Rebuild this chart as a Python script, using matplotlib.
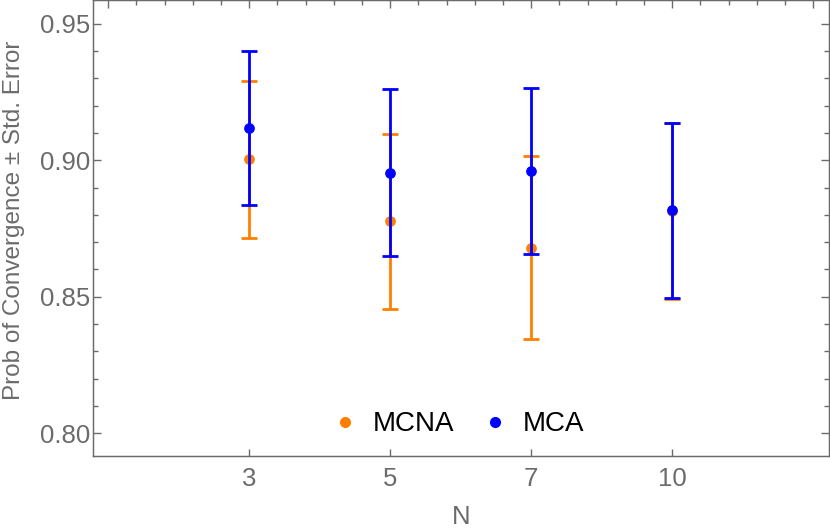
import numpy as np
import matplotlib
matplotlib.use('Agg')
import matplotlib.pyplot as plt
from matplotlib.ticker import MultipleLocator, FormatStrFormatter
from matplotlib.lines import Line2D

plt.rcParams['font.family'] = ['Liberation Sans', 'DejaVu Sans']

# data
n_labels = ['3', '5', '7', '10']
mcna_mean = [0.9003, 0.8777, 0.8680, 0.8814]
mcna_err = [0.0286, 0.0320, 0.0334, 0.0322]
mca_mean = [0.9118, 0.8954, 0.8960, 0.8817]
mca_err = [0.0283, 0.0306, 0.0305, 0.0320]

gray = '#6b6b6b'
orange = '#FF8000'
blue = '#0000FF'

fig = plt.figure(figsize=(8.3, 5.29), dpi=100)
ax = fig.add_axes([92.7 / 830, (529 - 456) / 529, (828.7 - 92.7) / 830, 456 / 529])

x = np.arange(1, len(n_labels) + 1)
ax.errorbar(x, mcna_mean, yerr=mcna_err, fmt='o', color=orange, ms=6.7,
            elinewidth=2, capsize=5.8, capthick=2, zorder=2)
ax.errorbar(x, mca_mean, yerr=mca_err, fmt='o', color=blue, ms=6.7,
            elinewidth=2, capsize=5.8, capthick=2, zorder=3)

ax.set_xlim(-0.11, 5.11)
ax.set_ylim(0.7917, 0.95867)
ax.set_xticks(x)
ax.set_xticklabels(n_labels)
ax.yaxis.set_major_locator(MultipleLocator(0.05))
ax.yaxis.set_minor_locator(MultipleLocator(0.01))
ax.yaxis.set_major_formatter(FormatStrFormatter('%.2f'))

for s in ax.spines.values():
    s.set_color(gray)
    s.set_linewidth(1)

ax.tick_params(axis='both', which='major', direction='in', length=5.8, width=1,
               color=gray, labelcolor=gray, labelsize=18.5)
ax.tick_params(axis='y', which='minor', direction='in', length=3.4, width=1, color=gray)
ax.tick_params(axis='y', which='both', right=True)
ax.tick_params(axis='x', which='major', pad=8, length=5)
ax.tick_params(axis='y', which='major', pad=2)

# top frame ticks
top = ax.twiny()
top.set_xlim(ax.get_xlim())
top.xaxis.set_major_locator(MultipleLocator(1))
top.xaxis.set_minor_locator(MultipleLocator(0.2))
top.tick_params(axis='x', which='major', direction='in', length=5.8, width=1,
                color=gray, labeltop=False)
top.tick_params(axis='x', which='minor', direction='in', length=3.4, width=1, color=gray)
for s in top.spines.values():
    s.set_color(gray)

ax.set_xlabel('N', fontsize=18.5, color=gray, labelpad=10)
ax.set_ylabel('Prob of Convergence ± Std. Error', fontsize=17.5, color=gray)
ax.yaxis.set_label_coords(-0.092, 0.5175)

handles = [Line2D([], [], ls='none', marker='o', color=orange, ms=7),
           Line2D([], [], ls='none', marker='o', color=blue, ms=7)]
ax.legend(handles, ['MCNA', 'MCA'], loc='lower center', bbox_to_anchor=(0.5, -0.014),
          ncol=2, frameon=False, fontsize=20, handlelength=0.6, handletextpad=0.7,
          columnspacing=1.18)

fig.savefig('out.png', dpi=100)
